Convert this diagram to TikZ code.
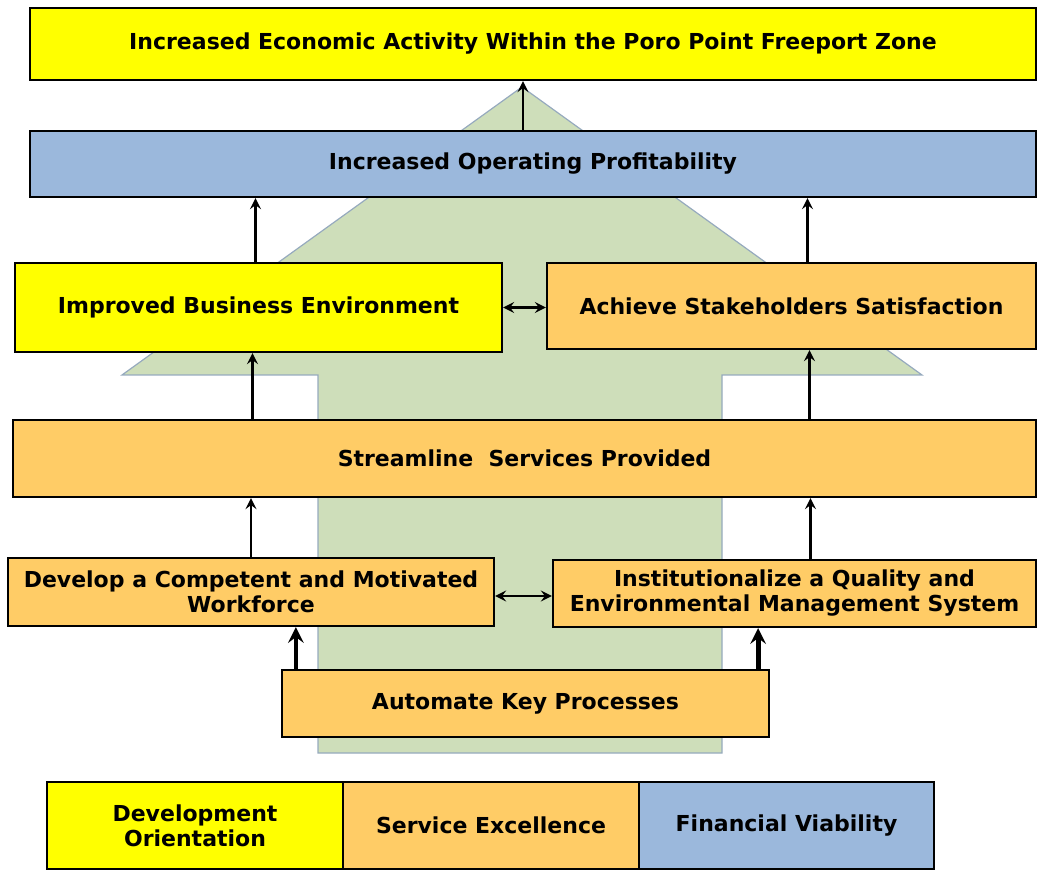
\documentclass[tikz,border=0pt]{standalone}
\usepackage{fontspec}
\setmainfont{DejaVu Sans}
\usepackage{tikz}
\usetikzlibrary{arrows,positioning,backgrounds}

\definecolor{goalyellow}{RGB}{255,255,0}
\definecolor{goalorange}{RGB}{255,204,102}
\definecolor{goalblue}{RGB}{155,184,220}
\definecolor{bigarrow}{RGB}{206,222,186}
\definecolor{bigarrowline}{RGB}{150,170,190}

\begin{document}
\begin{tikzpicture}[
x=0.5pt,y=-0.5pt,
font=\bfseries\fontsize{11}{12.5}\selectfont,
goal/.style={draw=black,line width=1.1pt,inner sep=2pt,align=center},
upline/.style={->,>=stealth,line width=1.4pt},
fatline/.style={->,>=stealth,line width=2.4pt},
twoway/.style={<->,>=stealth,line width=1.4pt}]
    % Frame
    \useasboundingbox (0,0) rectangle (1039,871);

    % Big arrow behind the boxes
    \draw[fill=bigarrow,draw=bigarrowline,line width=0.6pt]
        (522,87) -- (122,375) -- (318,375) -- (318,753)
        -- (722,753) -- (722,375) -- (922,375) -- cycle;

    % Objectives
    \node[goal,fill=goalyellow,minimum width=503pt,minimum height=36pt] (zone) at (533,44)
        {Increased Economic Activity Within the Poro Point Freeport Zone};
    \node[goal,fill=goalblue,minimum width=503pt,minimum height=33pt] (profit) at (533,164)
        {Increased Operating Profitability};
    \node[goal,fill=goalyellow,minimum width=243.5pt,minimum height=44.5pt] (business) at (258.5,307.5)
        {Improved Business Environment};
    \node[goal,fill=goalorange,minimum width=244.5pt,minimum height=43pt] (stake) at (791.5,306)
        {Achieve Stakeholders Satisfaction};
    \node[goal,fill=goalorange,minimum width=511.5pt,minimum height=38.5pt] (stream) at (524.5,458.5)
        {Streamline~~Services Provided};
    \node[goal,fill=goalorange,minimum width=243pt,minimum height=34pt] (work) at (251,592)
        {Develop a Competent and Motivated\\Workforce};
    \node[goal,fill=goalorange,minimum width=241.5pt,minimum height=33.5pt] (quality) at (794.5,593.5)
        {Institutionalize a Quality and\\Environmental Management System};
    \node[goal,fill=goalorange,minimum width=243.5pt,minimum height=33.5pt] (automate) at (525.5,703.5)
        {Automate Key Processes};

    % Links
    \draw[upline] ([xshift=-5pt]profit.north) -- ([xshift=-5pt]zone.south);
    \draw[upline] ([xshift=-1.5pt]business.north) -- ([xshift=-1.5pt]business.north |- profit.south);
    \draw[upline] ([xshift=8pt]stake.north) -- ([xshift=8pt]stake.north |- profit.south);
    \draw[upline] ([xshift=-3pt]business.south |- stream.north) -- ([xshift=-3pt]business.south);
    \draw[upline] ([xshift=9pt]stake.south |- stream.north) -- ([xshift=9pt]stake.south);
    \draw[upline] (work.north) -- (work.north |- stream.south);
    \draw[upline] ([xshift=8pt]quality.north) -- ([xshift=8pt]quality.north |- stream.south);
    \draw[fatline] ([xshift=7.5pt]automate.north west) -- ([xshift=7.5pt]automate.north west |- work.south);
    \draw[fatline] ([xshift=-6pt]automate.north east) -- ([xshift=-6pt]automate.north east |- quality.south);
    \draw[twoway] (business.east) -- (business.east -| stake.west);
    \draw[twoway] ([yshift=-2pt]work.east) -- ([yshift=-2pt]work.east -| quality.west);

    % Legend
    \node[goal,fill=goalyellow,minimum width=148pt,minimum height=43.5pt] (develop) at (195,825.5)
        {Development\\Orientation};
    \node[goal,fill=goalorange,minimum width=148pt,minimum height=43.5pt] (service) at (491,825.5)
        {Service Excellence};
    \node[goal,fill=goalblue,minimum width=147.5pt,minimum height=43.5pt] (finance) at (786.5,825.5)
        {Financial Viability};
\end{tikzpicture}
\end{document}
